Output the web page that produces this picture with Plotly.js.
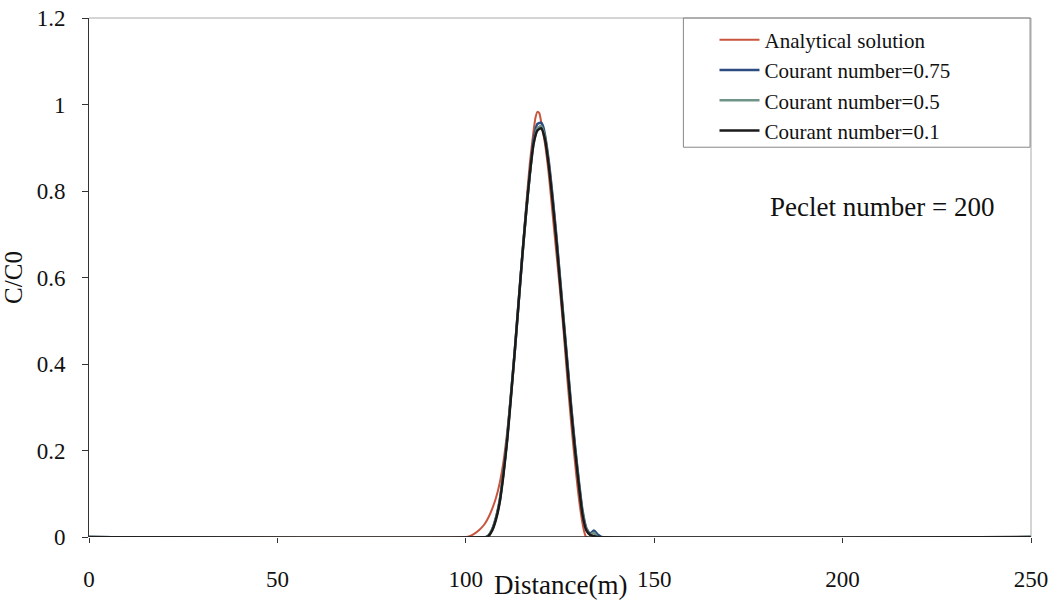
<!DOCTYPE html>
<html>
<head>
<meta charset="utf-8">
<script src="https://cdn.plot.ly/plotly-3.0.1.min.js"></script>
<style>
html,body{margin:0;padding:0;background:#fff;}
#chart{width:1064px;height:605px;}
#chart .xtick text, #chart .ytick text { font-family: "Liberation Serif", "Times New Roman", serif !important; }
</style>
</head>
<body>
<div id="chart"></div>
<script>
// Analytical solution
const xAnalytical = [0, 100, 101, 102, 103, 104, 105, 106, 107, 108, 109, 110, 111, 112, 113, 114, 115, 116, 117, 118, 118.5, 119, 119.5, 120, 121, 122, 123, 124, 125, 126, 127, 128, 129, 130, 131, 131.5, 132, 250];
const yAnalytical = [0, 0, 0.002, 0.006, 0.012, 0.02, 0.03, 0.045, 0.065, 0.09, 0.125, 0.175, 0.245, 0.33, 0.43, 0.54, 0.655, 0.765, 0.865, 0.94, 0.97, 0.983, 0.98, 0.96, 0.91, 0.84, 0.75, 0.66, 0.57, 0.47, 0.36, 0.26, 0.17, 0.09, 0.03, 0.01, 0, 0];

// Courant number = 0.75
const xC075 = [0, 105.5, 106, 107, 108, 109, 110, 111, 112, 113, 114, 115, 116, 117, 118, 119, 120, 120.5, 121, 122, 123, 124, 125, 126, 127, 128, 129, 130, 131, 132, 133, 134, 135, 136, 250];
const yC075 = [0, 0, 0.003, 0.018, 0.045, 0.085, 0.15, 0.23, 0.33, 0.43, 0.54, 0.65, 0.75, 0.84, 0.92, 0.955, 0.958, 0.95, 0.93, 0.87, 0.79, 0.70, 0.60, 0.50, 0.40, 0.30, 0.21, 0.13, 0.06, 0.02, 0.008, 0.015, 0.006, 0, 0];

// Courant number = 0.5
const xC05 = [0, 105.5, 106, 107, 108, 109, 110, 111, 112, 113, 114, 115, 116, 117, 118, 119, 120, 121, 122, 123, 124, 125, 126, 127, 128, 129, 130, 131, 132, 133, 134, 135, 250];
const yC05 = [0, 0, 0.003, 0.017, 0.043, 0.083, 0.148, 0.23, 0.33, 0.43, 0.54, 0.65, 0.75, 0.84, 0.91, 0.945, 0.95, 0.925, 0.865, 0.785, 0.695, 0.595, 0.495, 0.395, 0.295, 0.205, 0.125, 0.055, 0.018, 0.006, 0.01, 0, 0];

// Courant number = 0.1
const xC01 = [0, 105.5, 106, 107, 108, 109, 110, 111, 112, 113, 114, 115, 116, 117, 118, 119, 120, 121, 122, 123, 124, 125, 126, 127, 128, 129, 130, 131, 132, 133, 134, 135, 250];
const yC01 = [0, 0, 0.002, 0.015, 0.04, 0.08, 0.145, 0.225, 0.325, 0.43, 0.54, 0.65, 0.75, 0.84, 0.91, 0.94, 0.945, 0.92, 0.86, 0.78, 0.69, 0.59, 0.49, 0.39, 0.29, 0.20, 0.12, 0.05, 0.015, 0.005, 0.002, 0, 0];

const seriesNames = ["Analytical solution", "Courant number=0.75", "Courant number=0.5", "Courant number=0.1"];
const xTickVals = [0, 50, 100, 150, 200, 250];
const yTickVals = [0, 0.2, 0.4, 0.6, 0.8, 1, 1.2];
const yTickText = ["0", "0.2", "0.4", "0.6", "0.8", "1", "1.2"];

const font = "Liberation Serif";

const traces = [
  {x: xAnalytical, y: yAnalytical, name: seriesNames[0], mode: "lines", line: {color: "#c8553d", width: 2, shape: "spline", smoothing: 0.6}},
  {x: xC075, y: yC075, name: seriesNames[1], mode: "lines", line: {color: "#2b4c7e", width: 2.5, shape: "spline", smoothing: 0.6}},
  {x: xC05, y: yC05, name: seriesNames[2], mode: "lines", line: {color: "#6f9487", width: 2.5, shape: "spline", smoothing: 0.6}},
  {x: xC01, y: yC01, name: seriesNames[3], mode: "lines", line: {color: "#1a1a1a", width: 2.5, shape: "spline", smoothing: 0.6}}
];

const layout = {
  width: 1064, height: 605,
  margin: {l: 89, r: 33, t: 18, b: 68},
  paper_bgcolor: "#fff", plot_bgcolor: "#fff",
  font: {family: font, size: 23, color: "#111"},
  showlegend: true,
  legend: {
    x: 0.664, y: 0.997, xanchor: "left", yanchor: "top",
    borderwidth: 0, bgcolor: "rgba(255,255,255,0)",
    font: {family: font, size: 21, color: "#111"},
    tracegroupgap: 0, itemwidth: 40
  },
  xaxis: {
    range: [0, 250], tickvals: xTickVals, ticktext: xTickVals.map(String),
    showgrid: false, zeroline: false, showline: false,
    ticks: "outside", ticklen: 5, tickcolor: "#333",
    ticklabelstandoff: 16,
    tickfont: {family: font, size: 23, color: "#111"}
  },
  yaxis: {
    range: [0, 1.2], tickvals: yTickVals, ticktext: yTickText,
    showgrid: false, zeroline: false, showline: true, linecolor: "#333", linewidth: 1,
    ticks: "outside", ticklen: 6, tickcolor: "#333",
    ticklabelstandoff: 12,
    tickfont: {family: font, size: 23, color: "#111"},
    title: {text: "C/C0", font: {family: font, size: 25, color: "#111"}, standoff: 6}
  },
  shapes: [
    {type: "line", xref: "paper", yref: "paper", x0: 0, x1: 1, y0: 1, y1: 1, line: {color: "#aaa", width: 1}},
    {type: "line", xref: "paper", yref: "paper", x0: 1, x1: 1, y0: 0, y1: 1, line: {color: "#aaa", width: 1}},
    {type: "line", xref: "paper", yref: "y", x0: 0, x1: 1, y0: 0, y1: 0, line: {color: "#222", width: 1.5}},
    {type: "rect", xref: "paper", yref: "paper", x0: 0.631, x1: 0.999, y0: 0.751, y1: 1, line: {color: "#888", width: 1}, fillcolor: "rgba(0,0,0,0)"}
  ],
  annotations: [
    {text: "Peclet number = 200", xref: "paper", yref: "paper", x: 0.963, y: 0.636, xanchor: "right", yanchor: "middle",
     showarrow: false, font: {family: font, size: 27, color: "#111"}},
    {text: "Distance(m)", xref: "paper", yref: "paper", x: 0.5, y: -0.0925, xanchor: "center", yanchor: "middle",
     showarrow: false, font: {family: font, size: 27, color: "#111"}}
  ]
};

Plotly.newPlot("chart", traces, layout, {displayModeBar: false, staticPlot: true});
</script>
</body>
</html>
